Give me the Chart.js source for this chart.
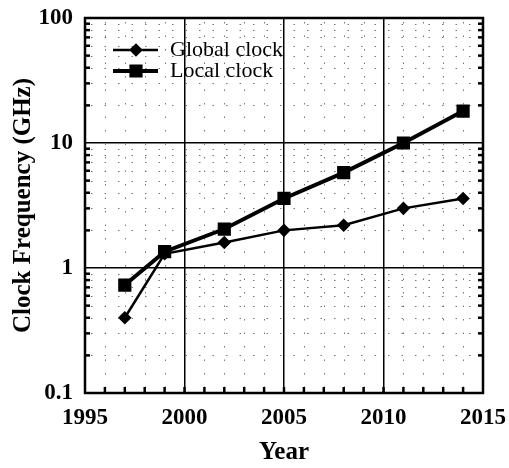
<!DOCTYPE html>
<html><head><meta charset="utf-8">
<script src="https://cdn.jsdelivr.net/npm/chart.js@4.4.0/dist/chart.umd.min.js"></script>
<style>html,body{margin:0;padding:0;background:#fff;}#wrap{width:509px;height:468px;}</style>
</head><body><div id="wrap"><canvas id="c" width="509" height="468"></canvas></div>
<script>
// ---- data ----
const years = [1997, 1999, 2002, 2005, 2008, 2011, 2014];
const globalClock = [0.4, 1.3, 1.6, 2.0, 2.2, 3.0, 3.6];
const localClock = [0.73, 1.35, 2.05, 3.6, 5.8, 10, 18];
const seriesNames = ['Global clock', 'Local clock'];
const yTickValues = [0.1, 1, 10, 100];
const yTickLabels = ['0.1', '1', '10', '100'];
const xTickValues = [1995, 2000, 2005, 2010, 2015];
const xTickLabels = ['1995', '2000', '2005', '2010', '2015'];
const xTitle = 'Year';
const yTitle = 'Clock Frequency (GHz)';

const serif = 'Liberation Serif';
const toPts = (xs, ys) => xs.map((x, i) => ({x: x, y: ys[i]}));

function minorLogValues(min, max) {
  const out = [];
  for (let d = min; d < max - 1e-9; d *= 10) {
    for (let k = 2; k <= 9; k++) out.push(d * k);
  }
  return out;
}

const framePlugin = {
  id: 'framePlugin',
  beforeDatasetsDraw(chart) {
    const {ctx, chartArea: a, scales: {x, y}} = chart;
    ctx.save();
    ctx.strokeStyle = '#777';
    ctx.lineWidth = 1;
    ctx.setLineDash([1.5, 12]);
    minorLogValues(0.1, 100).forEach(v => {
      const py = Math.round(y.getPixelForValue(v)) + 0.5;
      ctx.beginPath(); ctx.moveTo(a.left + 6, py); ctx.lineTo(a.right, py); ctx.stroke();
    });
    for (let yr = 1996; yr < 2015; yr++) {
      if (yr % 5 === 0) continue;
      const px = Math.round(x.getPixelForValue(yr)) + 0.5;
      ctx.beginPath(); ctx.moveTo(px, a.top + 4); ctx.lineTo(px, a.bottom); ctx.stroke();
    }
    ctx.restore();
  },
  afterDatasetsDraw(chart) {
    const {ctx, chartArea: a, scales: {x, y}} = chart;
    ctx.save();
    ctx.setLineDash([]);
    ctx.strokeStyle = '#000';
    ctx.lineWidth = 2.5;
    minorLogValues(0.1, 100).forEach(v => {
      const py = y.getPixelForValue(v);
      ctx.beginPath(); ctx.moveTo(a.left, py); ctx.lineTo(a.left + 5, py); ctx.stroke();
      ctx.beginPath(); ctx.moveTo(a.right, py); ctx.lineTo(a.right - 5, py); ctx.stroke();
    });
    for (let yr = 1996; yr < 2015; yr++) {
      const px = x.getPixelForValue(yr);
      ctx.beginPath(); ctx.moveTo(px, a.bottom); ctx.lineTo(px, a.bottom - 6); ctx.stroke();
    }
    ctx.lineWidth = 2.5;
    ctx.strokeRect(a.left, a.top, a.right - a.left, a.bottom - a.top);

    // legend
    const rows = [50, 71];
    chart.data.datasets.forEach((ds, i) => {
      const ly = rows[i];
      ctx.strokeStyle = ds.borderColor;
      ctx.lineWidth = ds.borderWidth;
      ctx.beginPath(); ctx.moveTo(113, ly); ctx.lineTo(158, ly); ctx.stroke();
      ctx.fillStyle = ds.pointBackgroundColor;
      Chart.helpers.drawPoint(ctx, {pointStyle: ds.pointStyle, radius: ds.pointRadius, rotation: 0, borderWidth: 1}, 136, ly);
      ctx.fillStyle = '#000';
      ctx.font = '22px "' + serif + '"';
      ctx.textBaseline = 'middle';
      ctx.textAlign = 'left';
      ctx.fillText(ds.label, 170, ly);
    });
    ctx.restore();
  }
};

new Chart(document.getElementById('c'), {
  type: 'line',
  data: {
    datasets: [
      {
        label: seriesNames[0],
        data: toPts(years, globalClock),
        borderColor: '#000', backgroundColor: '#000',
        pointBackgroundColor: '#000', pointBorderColor: '#000',
        borderWidth: 2.5, pointStyle: 'rectRot', pointRadius: 5, tension: 0
      },
      {
        label: seriesNames[1],
        data: toPts(years, localClock),
        borderColor: '#000', backgroundColor: '#000',
        pointBackgroundColor: '#000', pointBorderColor: '#000',
        borderWidth: 4, pointStyle: 'rect', pointRadius: 6.5, tension: 0
      }
    ]
  },
  options: {
    responsive: false,
    devicePixelRatio: 1,
    animation: false,
    layout: {padding: {top: 18, right: 26, left: 0, bottom: 0}},
    plugins: {legend: {display: false}, tooltip: {enabled: false}},
    scales: {
      x: {
        type: 'linear', min: 1995, max: 2015,
        afterBuildTicks: s => { s.ticks = xTickValues.map(v => ({value: v})); },
        afterFit: s => { s.height = 75; s.paddingLeft = 0; s.paddingRight = 0; },
        ticks: {
          color: '#000', padding: 11, maxRotation: 0, autoSkip: false,
          font: {family: serif, size: 23, weight: 'bold'},
          callback: v => { const i = xTickValues.indexOf(v); return i >= 0 ? xTickLabels[i] : ''; }
        },
        grid: {
          drawTicks: false, lineWidth: 1.5,
          color: c => (c.tick && (c.tick.value === 1995 || c.tick.value === 2015)) ? 'rgba(0,0,0,0)' : '#000'
        },
        border: {display: false},
        title: {display: true, text: xTitle, color: '#000', padding: {top: 0, bottom: 0},
          font: {family: serif, size: 25, weight: 'bold'}}
      },
      y: {
        type: 'logarithmic', min: 0.1, max: 100,
        afterBuildTicks: s => { s.ticks = yTickValues.map(v => ({value: v})); },
        afterFit: s => { s.width = 85; s.paddingTop = 0; s.paddingBottom = 0; },
        ticks: {
          color: '#000', padding: 12, autoSkip: false,
          font: {family: serif, size: 23, weight: 'bold'},
          callback: v => { const i = yTickValues.findIndex(t => Math.abs(t - v) < 1e-9 * Math.max(1, t)); return i >= 0 ? yTickLabels[i] : ''; }
        },
        grid: {
          drawTicks: false, lineWidth: 1.5,
          color: c => (c.tick && (Math.abs(c.tick.value - 0.1) < 1e-9 || c.tick.value === 100)) ? 'rgba(0,0,0,0)' : '#000'
        },
        border: {display: false},
        title: {display: true, text: yTitle, color: '#000', padding: {top: 9, bottom: 0},
          font: {family: serif, size: 25, weight: 'bold'}}
      }
    }
  },
  plugins: [framePlugin]
});
</script>
</body></html>
